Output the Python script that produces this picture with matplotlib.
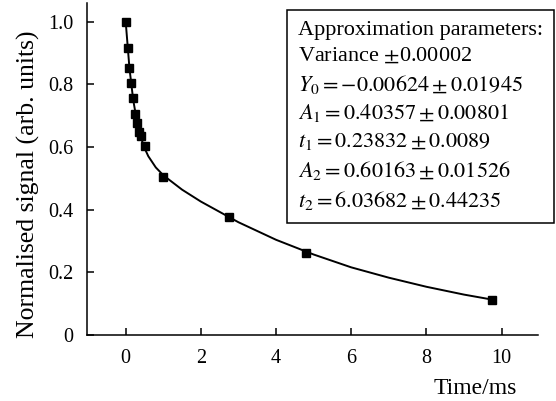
import matplotlib
matplotlib.use("Agg")
import matplotlib.pyplot as plt
from matplotlib.ticker import FixedLocator, FuncFormatter

plt.rcParams["font.family"] = ["Liberation Serif", "DejaVu Serif"]
plt.rcParams["mathtext.fontset"] = "stix"
plt.rcParams["font.size"] = 14.5

# measured points
time_ms = [0, 0.05, 0.1, 0.15, 0.2, 0.25, 0.3, 0.35, 0.4, 0.5, 1.0, 2.75, 4.8, 9.75]
signal = [1.0, 0.916, 0.853, 0.803, 0.758, 0.707, 0.678, 0.648, 0.636, 0.604,
          0.505, 0.377, 0.263, 0.112]

# approximation curve
fit_t = [0, 0.1, 0.2, 0.3, 0.4, 0.5, 0.6, 0.8, 1.0, 1.5, 2, 3, 4, 5, 6, 7, 8, 9, 9.75]
fit_y = [0.999, 0.851, 0.750, 0.681, 0.632, 0.597, 0.571, 0.535, 0.510, 0.464,
         0.426, 0.360, 0.304, 0.257, 0.216, 0.183, 0.154, 0.129, 0.113]

param_lines = [
    "Approximation parameters:",
    r"Variance $\pm$0.00002",
    r"$Y_0 = -0.00624 \pm 0.01945$",
    r"$A_1 = 0.40357 \pm 0.00801$",
    r"$t_1 = 0.23832 \pm 0.0089$",
    r"$A_2 = 0.60163 \pm 0.01526$",
    r"$t_2 = 6.03682 \pm 0.44235$",
]

x_ticks = [0, 2, 4, 6, 8, 10]
y_ticks = [0, 0.2, 0.4, 0.6, 0.8, 1.0]

fig = plt.figure(figsize=(5.56, 4.01), dpi=100)
ax = fig.add_axes([0.1565, 0.1646, 0.8111, 0.8279])

ax.plot(fit_t, fit_y, color="black", lw=1.4, zorder=2)
ax.plot(time_ms, signal, ls="none", marker="s", ms=6, color="black", zorder=3)

ax.set_xlim(-1.03, 10.97)
ax.set_ylim(0, 1.06)
ax.xaxis.set_major_locator(FixedLocator(x_ticks))
ax.yaxis.set_major_locator(FixedLocator(y_ticks))
ax.yaxis.set_major_formatter(FuncFormatter(lambda v, p: "0" if v == 0 else f"{v:.1f}"))
ax.tick_params(direction="in", length=5, width=1.1, pad=10)

for s in ["top", "right"]:
    ax.spines[s].set_visible(False)
for s in ["left", "bottom"]:
    ax.spines[s].set_linewidth(1.1)

ax.set_ylabel("Normalised signal (arb. units)", fontsize=18.5)
ax.yaxis.set_label_coords(-0.105, 0.455)
fig.text(517 / 556, 1 - 388 / 401, "Time/ms", ha="right", va="center", fontsize=17)

fig.text(298 / 556, 1 - 21 / 401, "\n".join(param_lines), ha="left", va="top",
         fontsize=16, linespacing=1.4,
         bbox=dict(boxstyle="square,pad=0.5", fc="white", ec="black", lw=1.1))

fig.savefig("out.png", dpi=100)
